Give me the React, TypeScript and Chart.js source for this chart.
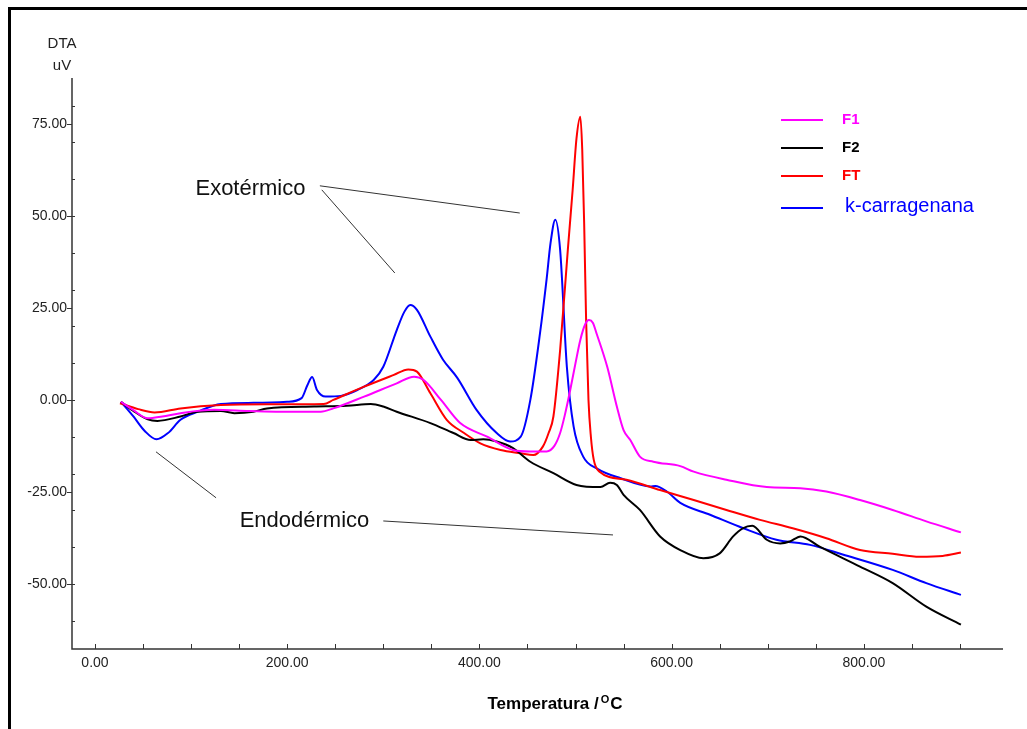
import React, { useEffect, useRef } from "react";
import { Chart, registerables } from "chart.js";

Chart.register(...registerables);

// ---- Data (temperature °C, DTA uV) ----
const f1Points: [number, number][] = [
  [27, -0.5], [40, -2.8], [55, -5], [70, -4.5], [89, -3.6], [124, -2.7], [160, -3], [193, -3.2], [235, -3.2], [248, -2.3],
  [280, 0.9], [314, 4.5], [332, 6.3], [342, 5.4], [360, 0], [380, -6.3], [408, -10], [435, -13.6], [453, -14], [470, -14],
  [478, -12.5], [484, -9], [489, -4], [494.5, 2.7], [500, 10], [505, 16.3], [510, 20.5], [514, 21.7], [518, 21], [522, 18],
  [533, 9], [543, -1.8], [550, -8.2], [557, -10.9], [567, -15.4], [581, -16.8], [609, -18], [623, -19.5], [657, -21.7], [699, -23.7],
  [734, -24], [761, -24.9], [796, -27.2], [830, -29.9], [865, -33], [901, -36],
];

const f2Points: [number, number][] = [
  [27, -0.5], [40, -3], [55, -5.3], [65, -5.7], [89, -4.5], [107, -3.2], [131, -3], [145, -3.6], [165, -3.2], [179, -2.3],
  [228, -1.8], [262, -1.6], [287, -1.1], [300, -1.8], [314, -3.2], [349, -6.3], [373, -9], [391, -10.9], [404, -10.7], [418, -11.3],
  [435, -13.1], [453, -16.8], [477, -19.9], [501, -23.1], [526, -23.7], [536, -22.5], [543, -23.1], [550, -25.8], [567, -29.9], [588, -37.1],
  [609, -40.8], [633, -43], [650, -41.7], [664, -37.1], [674, -34.9], [684, -34.2], [699, -38], [713, -39], [723, -38.5], [734, -37.1],
  [754, -39.9], [796, -45.3], [830, -49.8], [865, -56.2], [901, -61.1],
];

const ftPoints: [number, number][] = [
  [26, -0.9], [45, -2.5], [62, -3.4], [89, -2.3], [131, -1.4], [180, -1.2], [238, -1.1], [248, 0], [280, 3.6], [311, 6.8],
  [326, 8.3], [335, 7.7], [349, 1.8], [366, -5.4], [384, -9], [401, -11.8], [422, -13.6], [443, -14.5], [456, -15], [466, -12.7],
  [472, -9], [477, -4.5], [484, 13.6], [492, 40.8], [497, 57], [501, 71], [505, 77], [507, 68], [509, 48], [511, 22],
  [513.5, 0], [516, -10], [519, -16.3], [525, -19.5], [553, -21.7], [588, -24.5], [623, -27.2], [657, -29.9], [692, -32.6], [726, -34.9],
  [761, -37.6], [796, -40.8], [830, -41.8], [858, -42.6], [882, -42.4], [901, -41.5],
];

const kcPoints: [number, number][] = [
  [27, -0.5], [40, -4.5], [52, -8.5], [64, -10.7], [76, -9], [89, -5.4], [107, -3.2], [131, -1.1], [165, -0.8], [200, -0.5],
  [215, 0.5], [221, 4], [226, 6.2], [231, 2.7], [240, 0.9], [256, 1.1], [273, 2.7], [290, 5.4], [300, 9], [314, 19],
  [322, 24], [328, 25.8], [335, 24.5], [349, 17.2], [362, 11], [377, 6], [397, -2.7], [418, -9], [432, -11.3], [443, -10],
  [453, 0], [463, 18], [470, 33], [474, 42.6], [479, 49], [484, 40.8], [491, 9], [498, -7.2], [508, -15.4], [522, -18.6],
  [547, -21.3], [578, -23.5], [583, -23.4], [595, -24.9], [609, -28], [640, -31.2], [674, -34.8], [709, -38], [744, -39.4], [778, -42],
  [830, -46.2], [865, -49.8], [901, -53],
];

const seriesNames = ["F1", "F2", "FT", "k-carragenana"];
const seriesColors = ["#ff00ff", "#000000", "#ff0000", "#0000ff"];

const xTickValues = [0, 200, 400, 600, 800];
const yTickValues = [-50, -25, 0, 25, 50, 75];
const xMinorStep = 50;
const yMinorStep = 10;

// annotation texts & leader lines (data units)
const exoLabel = { text: "Exotérmico", at: [161.8, 57.3] };
const endoLabel = { text: "Endodérmico", at: [218, -32.9] };
const leaderLines: [number, number][][] = [
  [[234, 58.2], [442, 50.8]],
  [[236, 57.1], [312, 34.5]],
  [[300, -32.9], [539, -36.7]],
  [[63.5, -14.1], [126, -26.6]],
];

const FONT = "'Liberation Sans', Arial, sans-serif";

const decorPlugin = {
  id: "decor",
  afterDraw(chart: any) {
    const ctx = chart.ctx;
    const xs = chart.scales.x;
    const ys = chart.scales.y;
    const ca = chart.chartArea;
    ctx.save();

    // outer frame (top + left)
    ctx.fillStyle = "#000";
    ctx.fillRect(8, 7, 1019, 3);
    ctx.fillRect(8, 7, 3, 722);

    // axes
    ctx.strokeStyle = "#333";
    ctx.lineWidth = 1.5;
    ctx.beginPath();
    ctx.moveTo(ca.left, ca.top);
    ctx.lineTo(ca.left, ca.bottom);
    ctx.lineTo(ca.right, ca.bottom);
    ctx.stroke();

    ctx.lineWidth = 1;
    ctx.beginPath();
    // x ticks (inward)
    for (let v = 0; v <= xs.max; v += xMinorStep) {
      const px = Math.round(xs.getPixelForValue(v)) + 0.5;
      ctx.moveTo(px, ca.bottom);
      ctx.lineTo(px, ca.bottom - 5);
    }
    // y major ticks (outward)
    yTickValues.forEach((v) => {
      const py = Math.round(ys.getPixelForValue(v)) + 0.5;
      ctx.moveTo(ca.left - 5, py);
      ctx.lineTo(ca.left, py);
    });
    // y minor ticks (inward)
    for (let v = Math.ceil(ys.min / yMinorStep) * yMinorStep; v <= ys.max; v += yMinorStep) {
      const py = Math.round(ys.getPixelForValue(v)) + 0.5;
      ctx.moveTo(ca.left, py);
      ctx.lineTo(ca.left + 3, py);
    }
    ctx.stroke();

    // y-axis title
    ctx.fillStyle = "#222";
    ctx.font = `15px ${FONT}`;
    ctx.textAlign = "center";
    ctx.textBaseline = "middle";
    ctx.fillText("DTA", 62, 44);
    ctx.fillText("uV", 62, 66);

    // x-axis title with superscript
    const main = "Temperatura /";
    const sup = "O";
    const tail = "C";
    ctx.textAlign = "left";
    ctx.textBaseline = "alphabetic";
    ctx.font = `bold 17px ${FONT}`;
    const wMain = ctx.measureText(main).width;
    const wTail = ctx.measureText(tail).width;
    ctx.font = `bold 11px ${FONT}`;
    const wSup = ctx.measureText(sup).width;
    const total = wMain + 2 + wSup + 1 + wTail;
    let x0 = 555 - total / 2;
    const base = 709;
    ctx.fillStyle = "#000";
    ctx.font = `bold 17px ${FONT}`;
    ctx.fillText(main, x0, base);
    x0 += wMain + 2;
    ctx.font = `bold 11px ${FONT}`;
    ctx.fillText(sup, x0, base - 6);
    x0 += wSup + 1;
    ctx.font = `bold 17px ${FONT}`;
    ctx.fillText(tail, x0, base);

    // legend
    const legendY = [120, 148, 176, 208];
    seriesNames.forEach((name, i) => {
      ctx.strokeStyle = seriesColors[i];
      ctx.lineWidth = 2;
      ctx.beginPath();
      ctx.moveTo(781, legendY[i]);
      ctx.lineTo(823, legendY[i]);
      ctx.stroke();
      ctx.fillStyle = seriesColors[i];
      ctx.textAlign = "left";
      ctx.textBaseline = "middle";
      ctx.font = i === 3 ? `20px ${FONT}` : `bold 15px ${FONT}`;
      ctx.fillText(name, i === 3 ? 845 : 842, legendY[i] - (i === 3 ? 2 : 0));
    });

    // annotations
    ctx.strokeStyle = "#333";
    ctx.lineWidth = 1;
    ctx.beginPath();
    leaderLines.forEach((seg) => {
      ctx.moveTo(xs.getPixelForValue(seg[0][0]), ys.getPixelForValue(seg[0][1]));
      ctx.lineTo(xs.getPixelForValue(seg[1][0]), ys.getPixelForValue(seg[1][1]));
    });
    ctx.stroke();
    ctx.fillStyle = "#111";
    ctx.font = `22px ${FONT}`;
    ctx.textAlign = "center";
    ctx.textBaseline = "middle";
    [exoLabel, endoLabel].forEach((l) => {
      ctx.fillText(l.text, xs.getPixelForValue(l.at[0]), ys.getPixelForValue(l.at[1]));
    });

    ctx.restore();
  },
};

export default function App() {
  const ref = useRef<HTMLCanvasElement | null>(null);
  useEffect(() => {
    if (!ref.current) return;
    const all = [f1Points, f2Points, ftPoints, kcPoints];
    const chart = new Chart(ref.current, {
      type: "line",
      data: {
        datasets: all.map((pts, i) => ({
          label: seriesNames[i],
          data: pts.map(([x, y]) => ({ x, y })),
          borderColor: seriesColors[i],
          backgroundColor: seriesColors[i],
          borderWidth: 2,
          pointRadius: 0,
          fill: false,
          cubicInterpolationMode: "monotone" as const,
        })),
      },
      options: {
        responsive: false,
        animation: false,
        layout: { padding: { top: 78, right: 24, left: 0, bottom: 0 } },
        plugins: { legend: { display: false }, tooltip: { enabled: false } },
        scales: {
          x: {
            type: "linear",
            min: -23.9,
            max: 944.8,
            grid: { display: false, drawTicks: false },
            border: { display: false },
            afterBuildTicks: (s: any) => {
              s.ticks = xTickValues.map((v) => ({ value: v }));
            },
            afterFit: (s: any) => {
              s.height = 80;
            },
            ticks: {
              padding: 6,
              autoSkip: false,
              maxRotation: 0,
              color: "#222",
              font: { family: FONT, size: 14 },
              callback: (v: any) => Number(v).toFixed(2),
            },
          },
          y: {
            type: "linear",
            min: -67.7,
            max: 87.5,
            grid: { display: false, drawTicks: false },
            border: { display: false },
            afterBuildTicks: (s: any) => {
              s.ticks = yTickValues.map((v) => ({ value: v }));
            },
            afterFit: (s: any) => {
              s.width = 72;
            },
            ticks: {
              padding: 5,
              autoSkip: false,
              color: "#222",
              font: { family: FONT, size: 14 },
              callback: (v: any) => Number(v).toFixed(2),
            },
          },
        },
      },
      plugins: [decorPlugin],
    });
    return () => chart.destroy();
  }, []);

  return (
    <div style={{ position: "fixed", left: 0, top: 0, width: 1027, height: 729, background: "#fff" }}>
      <canvas ref={ref} width={1027} height={729} style={{ width: 1027, height: 729, display: "block" }} />
    </div>
  );
}
